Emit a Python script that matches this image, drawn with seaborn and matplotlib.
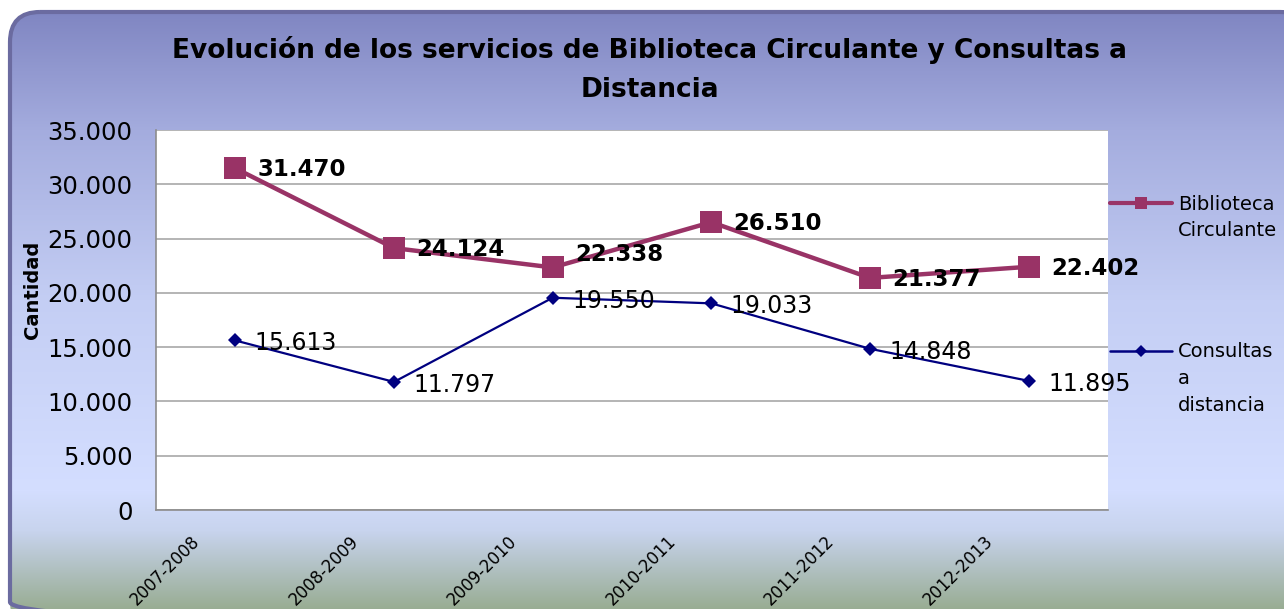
import numpy as np
import pandas as pd
import matplotlib
matplotlib.use('Agg')
import matplotlib.pyplot as plt
import matplotlib.transforms as mtransforms
from matplotlib.patches import FancyBboxPatch
from matplotlib.lines import Line2D
from matplotlib.ticker import FuncFormatter
import seaborn as sns

periodos = ['2007-2008', '2008-2009', '2009-2010', '2010-2011', '2011-2012', '2012-2013']
biblioteca = [31470, 24124, 22338, 26510, 21377, 22402]
consultas = [15613, 11797, 19550, 19033, 14848, 11895]

titulo = 'Evolución de los servicios de Biblioteca Circulante y Consultas a\nDistancia'
color_bib = '#993366'
color_con = '#000080'

sns.set_theme(style='white')
plt.rcParams['font.family'] = ['DejaVu Sans']
plt.rcParams['text.color'] = 'black'

W, H = 1284, 609
fig = plt.figure(figsize=(W / 100, H / 100), dpi=100)
fig.patch.set_facecolor('white')

# fondo con degradado y marco redondeado
bg = fig.add_axes([0, 0, 1, 1], zorder=-5)
bg.set_xlim(0, W)
bg.set_ylim(H, 0)
bg.axis('off')
stops_y = [12, 130, 300, 490, 530, 609]
stops_c = np.array([[128, 134, 194], [164, 172, 222], [196, 206, 244],
                    [212, 222, 255], [200, 212, 238], [152, 172, 146]]) / 255
ys = np.arange(H)
grad = np.stack([np.interp(ys, stops_y, stops_c[:, k]) for k in range(3)], axis=1)
img = bg.imshow(grad[:, None, :].repeat(2, axis=1), extent=(0, W, H, 0), aspect='auto')
frame = FancyBboxPatch((10, 12), 1300, 620, boxstyle='round,pad=0,rounding_size=30',
                       facecolor='none', edgecolor='#6B6BA0', linewidth=3)
bg.add_patch(frame)
img.set_clip_path(frame)

ax = fig.add_axes([156 / W, 1 - 510 / H, 952 / W, 380 / H])
ax.set_facecolor('white')

df = pd.DataFrame({'periodo': periodos * 2,
                   'valor': biblioteca + consultas,
                   'serie': ['Biblioteca Circulante'] * 6 + ['Consultas a distancia'] * 6})

sns.lineplot(data=df[df.serie == 'Biblioteca Circulante'], x='periodo', y='valor', ax=ax,
             color=color_bib, linewidth=3.2, marker='s', markersize=16,
             markeredgewidth=0, sort=False, zorder=4)
sns.lineplot(data=df[df.serie == 'Consultas a distancia'], x='periodo', y='valor', ax=ax,
             color=color_con, linewidth=1.6, marker='D', markersize=7.5,
             markeredgewidth=0, sort=False, zorder=3)

ax.set_xlim(-0.5, 5.5)
ax.set_ylim(0, 35000)
ax.set_yticks(range(0, 35001, 5000))
ax.yaxis.set_major_formatter(FuncFormatter(lambda v, p: f'{v:,.0f}'.replace(',', '.')))
ax.grid(axis='y', color='#A0A0A0', linewidth=1.1)
ax.set_axisbelow(True)
for s in ['top', 'right']:
    ax.spines[s].set_visible(False)
for s in ['left', 'bottom']:
    ax.spines[s].set_color('#8C8C8C')
    ax.spines[s].set_linewidth(1.2)

ax.tick_params(axis='y', length=0, pad=17, labelsize=17.5, labelcolor='black')
ax.tick_params(axis='x', length=0, pad=16, labelsize=12, labelcolor='black')
plt.setp(ax.get_xticklabels(), rotation=45, ha='right')
shift = mtransforms.ScaledTranslation(-32 / 100, 0, fig.dpi_scale_trans)
for lbl in ax.get_xticklabels():
    lbl.set_transform(lbl.get_transform() + shift)

ax.set_xlabel('')
ax.set_ylabel('Cantidad', fontsize=14, fontweight='bold', color='black',
              family=['Liberation Sans Narrow', 'DejaVu Sans Condensed', 'DejaVu Sans'])
ax.yaxis.set_label_coords(-(156 - 42) / 952, 0.58)

# etiquetas de datos
nudge_bib = {2: 10}
for i, v in enumerate(biblioteca):
    ax.annotate(f'{v:,}'.replace(',', '.'), (i, v), xytext=(16, -1 + nudge_bib.get(i, 0)),
                textcoords='offset points', ha='left', va='center',
                fontsize=16.5, fontweight='bold', color='black', zorder=6)
for i, v in enumerate(consultas):
    ax.annotate(f'{v:,}'.replace(',', '.'), (i, v), xytext=(14, -2),
                textcoords='offset points', ha='left', va='center',
                fontsize=17, color='black', zorder=6)

fig.text(650 / W, 1 - 36 / H, titulo, ha='center', va='top', fontsize=19,
         fontweight='bold', linespacing=1.65, color='black')

# leyenda
handles = [Line2D([], [], color=color_bib, linewidth=3, marker='s', markersize=8, markeredgewidth=0),
           Line2D([], [], color=color_con, linewidth=1.8, marker='D', markersize=6.5, markeredgewidth=0)]
leg = ax.legend(handles, ['Biblioteca', 'Consultas'], loc='upper left',
                bbox_to_anchor=(1110 / W, 1 - 195 / H), bbox_transform=fig.transFigure,
                frameon=False, fontsize=14, handlelength=3.2, handletextpad=0.3,
                borderpad=0, borderaxespad=0, labelspacing=6.6)
for t in leg.get_texts():
    t.set_color('black')
fig.text(1178 / W, 1 - 231 / H, 'Circulante', ha='left', va='center', fontsize=14)
fig.text(1178 / W, 1 - 369 / H, 'a\ndistancia', ha='left', va='top', fontsize=14,
         linespacing=1.55)

fig.savefig('out.png', dpi=100)
